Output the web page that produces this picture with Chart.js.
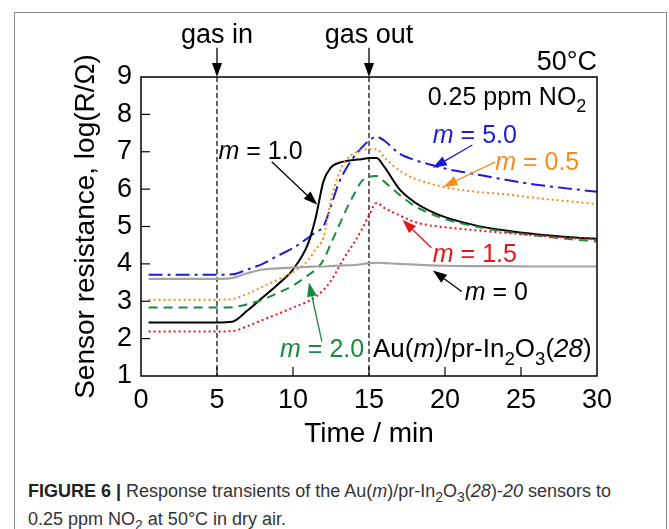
<!DOCTYPE html>
<html>
<head>
<meta charset="utf-8">
<script src="https://cdn.jsdelivr.net/npm/chart.js@4/dist/chart.umd.min.js"></script>
<style>
  body { margin: 0; background: #fff; width: 669px; height: 529px; overflow: hidden; position: relative; }
  #frame { position: absolute; left: 14px; top: 12px; width: 651px; height: 540px; border: 1px solid #8a8a8a; }
  #chart { position: absolute; left: 0; top: 0; }
  #caption { position: absolute; left: 28px; top: 480px; font: 18px 'Liberation Sans', sans-serif; line-height: 22px; color: #333; white-space: nowrap; }
  #caption b { color: #222; }
</style>
</head>
<body>
<div id="frame"></div>
<canvas id="chart" width="669" height="460"></canvas>
<div id="caption"><b>FIGURE 6 |</b> Response transients of the Au(<i>m</i>)/pr-In<sub style="font-size:14px">2</sub>O<sub style="font-size:14px">3</sub>(<i>28</i>)-<i>20</i> sensors to<br>0.25 ppm NO<sub style="font-size:14px">2</sub> at 50°C in dry air.</div>
<script>
const FONT = "'Liberation Sans', Arial, sans-serif";

// time axis (min) shared by every sensor trace
const time = [0.5, 5, 6, 7, 8, 9, 10, 11, 11.5, 12, 12.5, 13, 13.5, 14, 14.5, 15, 15.5, 16, 17, 18, 19, 20, 22, 24, 26, 28, 30];

// log(R/Ohm)
const m0  = [3.60, 3.60, 3.62, 3.75, 3.85, 3.88, 3.90, 3.92, 3.93, 3.93, 3.94, 3.95, 3.96, 3.97, 3.99, 4.02, 4.03, 4.02, 4.00, 3.98, 3.96, 3.95, 3.94, 3.94, 3.93, 3.93, 3.93];
const m05 = [3.04, 3.04, 3.06, 3.20, 3.39, 3.58, 3.78, 4.10, 4.40, 4.70, 5.70, 6.40, 6.78, 6.95, 7.05, 7.07, 7.07, 6.85, 6.50, 6.28, 6.15, 6.05, 5.93, 5.86, 5.76, 5.68, 5.60];
const m10 = [2.43, 2.43, 2.45, 2.75, 3.10, 3.45, 3.85, 4.55, 5.25, 6.20, 6.58, 6.70, 6.75, 6.78, 6.80, 6.83, 6.83, 6.60, 6.00, 5.65, 5.42, 5.25, 5.03, 4.89, 4.79, 4.72, 4.67];
const m15 = [2.19, 2.19, 2.20, 2.33, 2.50, 2.66, 2.83, 3.00, 3.12, 3.30, 3.55, 3.90, 4.25, 4.55, 4.90, 5.30, 5.63, 5.50, 5.30, 5.12, 5.03, 4.98, 4.90, 4.83, 4.76, 4.70, 4.65];
const m20 = [2.83, 2.83, 2.84, 2.92, 3.04, 3.22, 3.42, 3.70, 3.85, 4.10, 4.55, 5.00, 5.45, 5.85, 6.20, 6.33, 6.35, 6.20, 5.85, 5.55, 5.35, 5.20, 5.00, 4.86, 4.76, 4.67, 4.60];
const m50 = [3.71, 3.71, 3.72, 3.85, 4.00, 4.22, 4.42, 4.70, 4.85, 5.00, 5.55, 6.15, 6.55, 6.86, 7.10, 7.30, 7.40, 7.30, 6.95, 6.78, 6.66, 6.55, 6.40, 6.25, 6.12, 6.02, 5.93];

const xTicks = [0, 5, 10, 15, 20, 25, 30];
const yTicks = [1, 2, 3, 4, 5, 6, 7, 8, 9];
const gasIn = 5, gasOut = 15;

const BLUE = '#1c1cd6', ORANGE = '#f98b1c', RED = '#e8141c', GREEN = '#1b8a3c', GRAY = '#a3a3a3';

const pts = v => time.map((t, i) => ({ x: t, y: v[i] }));
const line = (label, v, color, dash, width) => ({
  label, data: pts(v), borderColor: color, borderDash: dash, borderWidth: width,
  pointRadius: 0, cubicInterpolationMode: 'monotone', fill: false
});

// draw a run of text pieces: {t, i (italic), sub}
function runs(ctx, x, y, parts, size, color, align) {
  const f = (p) => (p.i ? 'italic ' : '') + (p.sub ? size * 0.72 : size) + 'px ' + FONT;
  let w = 0;
  parts.forEach(p => { ctx.font = f(p); w += ctx.measureText(p.t).width; });
  let cx = align === 'right' ? x - w : align === 'center' ? x - w / 2 : x;
  ctx.fillStyle = color;
  ctx.textBaseline = 'alphabetic';
  ctx.textAlign = 'left';
  parts.forEach(p => {
    ctx.font = f(p);
    ctx.fillText(p.t, cx, p.sub ? y + size * 0.28 : y);
    cx += ctx.measureText(p.t).width;
  });
}

function arrow(ctx, x1, y1, x2, y2, color) {
  const a = Math.atan2(y2 - y1, x2 - x1), L = 14, W = 5;
  ctx.strokeStyle = color; ctx.fillStyle = color; ctx.lineWidth = 1.3; ctx.setLineDash([]);
  ctx.beginPath(); ctx.moveTo(x1, y1); ctx.lineTo(x2 - L * Math.cos(a), y2 - L * Math.sin(a)); ctx.stroke();
  ctx.beginPath();
  ctx.moveTo(x2, y2);
  ctx.lineTo(x2 - L * Math.cos(a) + W * Math.sin(a), y2 - L * Math.sin(a) - W * Math.cos(a));
  ctx.lineTo(x2 - L * Math.cos(a) - W * Math.sin(a), y2 - L * Math.sin(a) + W * Math.cos(a));
  ctx.closePath(); ctx.fill();
}

const notes = {
  id: 'notes',
  beforeDatasetsDraw(chart) {
    const { ctx, scales: { x }, chartArea: a } = chart;
    ctx.save();
    // gas in / gas out markers
    ctx.strokeStyle = '#000'; ctx.lineWidth = 1.2; ctx.setLineDash([5, 3]);
    [gasIn, gasOut].forEach(v => {
      ctx.beginPath(); ctx.moveTo(x.getPixelForValue(v), a.top); ctx.lineTo(x.getPixelForValue(v), a.bottom); ctx.stroke();
    });
    ctx.restore();
  },
  afterDatasetsDraw(chart) {
    const { ctx, scales: { x, y }, chartArea: a } = chart;
    const X = v => x.getPixelForValue(v), Y = v => y.getPixelForValue(v);
    ctx.save();
    // plot box and inward ticks
    ctx.strokeStyle = '#000'; ctx.lineWidth = 1.5; ctx.setLineDash([]);
    ctx.strokeRect(a.left, a.top, a.right - a.left, a.bottom - a.top);
    ctx.lineWidth = 1.2;
    xTicks.slice(1, -1).forEach(v => { ctx.beginPath(); ctx.moveTo(X(v), a.bottom); ctx.lineTo(X(v), a.bottom - 9); ctx.stroke(); });
    yTicks.slice(1, -1).forEach(v => { ctx.beginPath(); ctx.moveTo(a.left, Y(v)); ctx.lineTo(a.left + 9, Y(v)); ctx.stroke(); });

    // axis titles
    runs(ctx, (a.left + a.right) / 2, a.bottom + 66, [{ t: 'Time / min' }], 28, '#000', 'center');
    ctx.save();
    ctx.translate(94, (a.top + a.bottom) / 2);
    ctx.rotate(-Math.PI / 2);
    runs(ctx, 0, 0, [{ t: 'Sensor resistance, log(R/Ω)' }], 28, '#000', 'center');
    ctx.restore();

    // gas in / out labels with arrows
    runs(ctx, X(gasIn), Y(9.9), [{ t: 'gas in' }], 27, '#000', 'center');
    runs(ctx, X(gasOut), Y(9.9), [{ t: 'gas out' }], 27, '#000', 'center');
    arrow(ctx, X(gasIn), Y(9.78), X(gasIn), a.top, '#000');
    arrow(ctx, X(gasOut), Y(9.78), X(gasOut), a.top, '#000');

    runs(ctx, X(30), Y(9.2), [{ t: '50°C' }], 27, '#000', 'right');
    runs(ctx, X(29.3), Y(8.25), [{ t: '0.25 ppm NO' }, { t: '2', sub: true }], 25, '#000', 'right');

    const m = (val) => [{ t: 'm', i: true }, { t: ' = ' + val }];
    runs(ctx, X(5.1), Y(6.8), m('1.0'), 25, '#000');
    arrow(ctx, X(8.6), Y(6.73), X(11.6), Y(5.58), '#000');
    runs(ctx, X(19.2), Y(7.24), m('5.0'), 25, BLUE);
    arrow(ctx, X(21.8), Y(7.18), X(19.2), Y(6.57), BLUE);
    runs(ctx, X(23.3), Y(6.52), m('0.5'), 25, ORANGE);
    arrow(ctx, X(23.3), Y(6.73), X(19.9), Y(6.06), ORANGE);
    runs(ctx, X(19.2), Y(4.06), m('1.5'), 25, RED);
    arrow(ctx, X(19.1), Y(4.43), X(17.2), Y(5.18), RED);
    runs(ctx, X(21.3), Y(3.04), m('0'), 25, '#000');
    arrow(ctx, X(21.1), Y(3.26), X(19.2), Y(3.82), '#000');
    runs(ctx, X(9.15), Y(1.5), m('2.0'), 25, GREEN);
    arrow(ctx, X(11.9), Y(1.92), X(11.05), Y(3.5), GREEN);

    runs(ctx, X(15.26), Y(1.5), [{ t: 'Au(' }, { t: 'm', i: true }, { t: ')/pr-In' }, { t: '2', sub: true }, { t: 'O' }, { t: '3', sub: true }, { t: '(' }, { t: '28', i: true }, { t: ')' }], 26, '#000');
    ctx.restore();
  }
};

new Chart(document.getElementById('chart'), {
  type: 'line',
  data: {
    datasets: [
      line('m = 0', m0, GRAY, [], 2.2),
      line('m = 1.5', m15, RED, [2, 3], 2),
      line('m = 2.0', m20, GREEN, [9, 6], 2),
      line('m = 0.5', m05, ORANGE, [2, 3], 2),
      line('m = 1.0', m10, '#000', [], 2),
      line('m = 5.0', m50, BLUE, [14, 5, 3, 5], 2)
    ]
  },
  options: {
    responsive: false,
    animation: false,
    layout: { padding: { left: 0, top: 77, right: 72, bottom: 0 } },
    plugins: { legend: { display: false }, tooltip: { enabled: false } },
    scales: {
      x: {
        type: 'linear', min: 0, max: 30,
        afterFit: s => { s.height = 84; },
        afterBuildTicks: s => { s.ticks = xTicks.map(v => ({ value: v })); },
        grid: { display: false, drawTicks: false },
        border: { display: false },
        ticks: { color: '#000', padding: 8, maxRotation: 0, font: { family: FONT, size: 27 } }
      },
      y: {
        type: 'linear', min: 1, max: 9,
        afterFit: s => { s.width = 141; },
        afterBuildTicks: s => { s.ticks = yTicks.map(v => ({ value: v })); },
        grid: { display: false, drawTicks: false },
        border: { display: false },
        ticks: { color: '#000', padding: 9, font: { family: FONT, size: 27 } }
      }
    }
  },
  plugins: [notes]
});
</script>
</body>
</html>
